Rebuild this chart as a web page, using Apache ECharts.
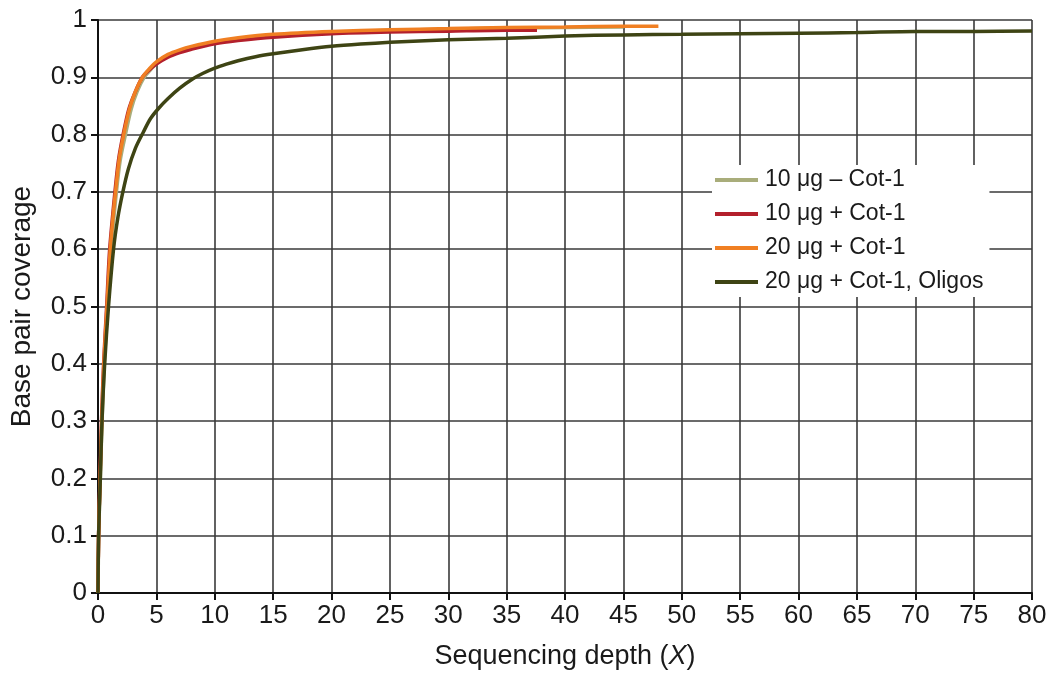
<!DOCTYPE html>
<html>
<head>
<meta charset="utf-8">
<script src="https://cdn.jsdelivr.net/npm/echarts@6/dist/echarts.min.js"></script>
<style>html,body{margin:0;padding:0;background:#fff}#c{width:1050px;height:675px}</style>
</head>
<body>
<div id="c"></div>
<script>
const seriesNames = ['10 μg – Cot-1', '10 μg + Cot-1', '20 μg + Cot-1', '20 μg + Cot-1, Oligos'];
const seriesColors = ['#a9ad7b', '#b3202c', '#f07f22', '#3e4414'];

const lightGreen = [[0,0],[0.06,0.1],[0.2,0.2],[0.35,0.3],[0.54,0.4],[0.82,0.5],[1.12,0.6],[1.58,0.7],[1.9,0.755],[2.35,0.8],[2.85,0.845],[3.35,0.875],[3.95,0.9],[4.5,0.913],[5,0.924],[6,0.938],[7,0.946],[8,0.952],[10,0.961],[12,0.967],[15,0.973],[20,0.978],[25,0.982],[30,0.984],[35,0.986],[40,0.987],[45,0.988]];
const red = [[0,0],[0.05,0.1],[0.17,0.2],[0.3,0.3],[0.48,0.4],[0.74,0.5],[1.0,0.6],[1.45,0.7],[1.75,0.755],[2.15,0.8],[2.65,0.845],[3.2,0.875],[3.8,0.9],[4.4,0.913],[5,0.923],[6,0.935],[7,0.943],[8,0.949],[10,0.9585],[12,0.964],[15,0.970],[20,0.976],[25,0.979],[30,0.9805],[35,0.982],[37.6,0.982]];
const orange = [[0,0],[0.05,0.1],[0.18,0.2],[0.32,0.3],[0.5,0.4],[0.77,0.5],[1.05,0.6],[1.3,0.66],[1.5,0.7],[1.8,0.755],[2.2,0.8],[2.7,0.845],[3.2,0.875],[3.8,0.9],[4.4,0.915],[5,0.927],[6,0.94],[7,0.948],[8,0.954],[10,0.963],[12,0.969],[15,0.975],[20,0.98],[25,0.983],[30,0.985],[35,0.987],[40,0.988],[45,0.989],[48,0.989]];
const darkGreen = [[0,0],[0.05,0.1],[0.2,0.2],[0.34,0.3],[0.57,0.4],[0.9,0.5],[1.33,0.6],[1.7,0.655],[2.13,0.7],[2.6,0.74],[3.2,0.776],[3.9,0.805],[4.5,0.828],[5.2,0.846],[6,0.863],[7,0.881],[8.1,0.897],[9,0.907],[10,0.916],[11,0.923],[12,0.929],[13.5,0.936],[15,0.941],[17.5,0.948],[20,0.954],[22.5,0.958],[25,0.961],[30,0.9655],[35,0.968],[40,0.972],[45,0.974],[50,0.975],[55,0.976],[60,0.977],[65,0.978],[70,0.98],[75,0.98],[80,0.981]];
const seriesData = [lightGreen, red, orange, darkGreen];

const xTicks = {min: 0, max: 80, interval: 5};
const yTicks = {min: 0, max: 1, interval: 0.1};

const chart = echarts.init(document.getElementById('c'));
const font = 'Liberation Sans, Arial, sans-serif';
const txt = '#1a1a1a';
chart.setOption({
  animation: false,
  backgroundColor: '#fff',
  grid: {left: 96, right: 18, top: 20, bottom: 81, containLabel: false},
  legend: {
    orient: 'vertical', left: 712, top: 165,
    padding: [2, 6, 2, 3],
    backgroundColor: '#fff',
    icon: 'rect',
    itemWidth: 43, itemHeight: 4, itemGap: 8,
    textStyle: {fontFamily: font, fontSize: 23, color: txt, padding: [0, 0, 0, 2], lineHeight: 26},
    data: seriesNames,
    z: 10
  },
  xAxis: {
    type: 'value', min: xTicks.min, max: xTicks.max, interval: xTicks.interval,
    axisLine: {show: true, lineStyle: {color: '#111', width: 2}},
    axisTick: {show: true, length: 7, lineStyle: {color: '#111', width: 2}},
    axisLabel: {fontFamily: font, fontSize: 26, color: txt, margin: 10},
    splitLine: {show: true, lineStyle: {color: '#3a3a3a', width: 1.6}},
    name: 'Sequencing depth ({i|X})', nameLocation: 'middle', nameGap: 50,
    nameTextStyle: {fontFamily: font, fontSize: 27, color: txt,
      rich: {i: {fontFamily: font, fontSize: 27, fontStyle: 'italic', color: txt}}}
  },
  yAxis: {
    type: 'value', min: yTicks.min, max: yTicks.max, interval: yTicks.interval,
    axisLine: {show: true, lineStyle: {color: '#111', width: 2}},
    axisTick: {show: true, length: 7, lineStyle: {color: '#111', width: 2}},
    axisLabel: {fontFamily: font, fontSize: 26, color: txt, margin: 11,
      formatter: v => String(Math.round(v * 10) / 10)},
    splitLine: {show: true, lineStyle: {color: '#3a3a3a', width: 1.6}},
    name: 'Base pair coverage', nameLocation: 'middle', nameGap: 62,
    nameTextStyle: {fontFamily: font, fontSize: 28, color: txt}
  },
  series: seriesNames.map((n, i) => ({
    name: n, type: 'line', data: seriesData[i], showSymbol: false, symbol: 'none',
    smooth: 0.3, color: seriesColors[i],
    lineStyle: {color: seriesColors[i], width: 3.5}, z: 3 + i
  }))
});
</script>
</body>
</html>
